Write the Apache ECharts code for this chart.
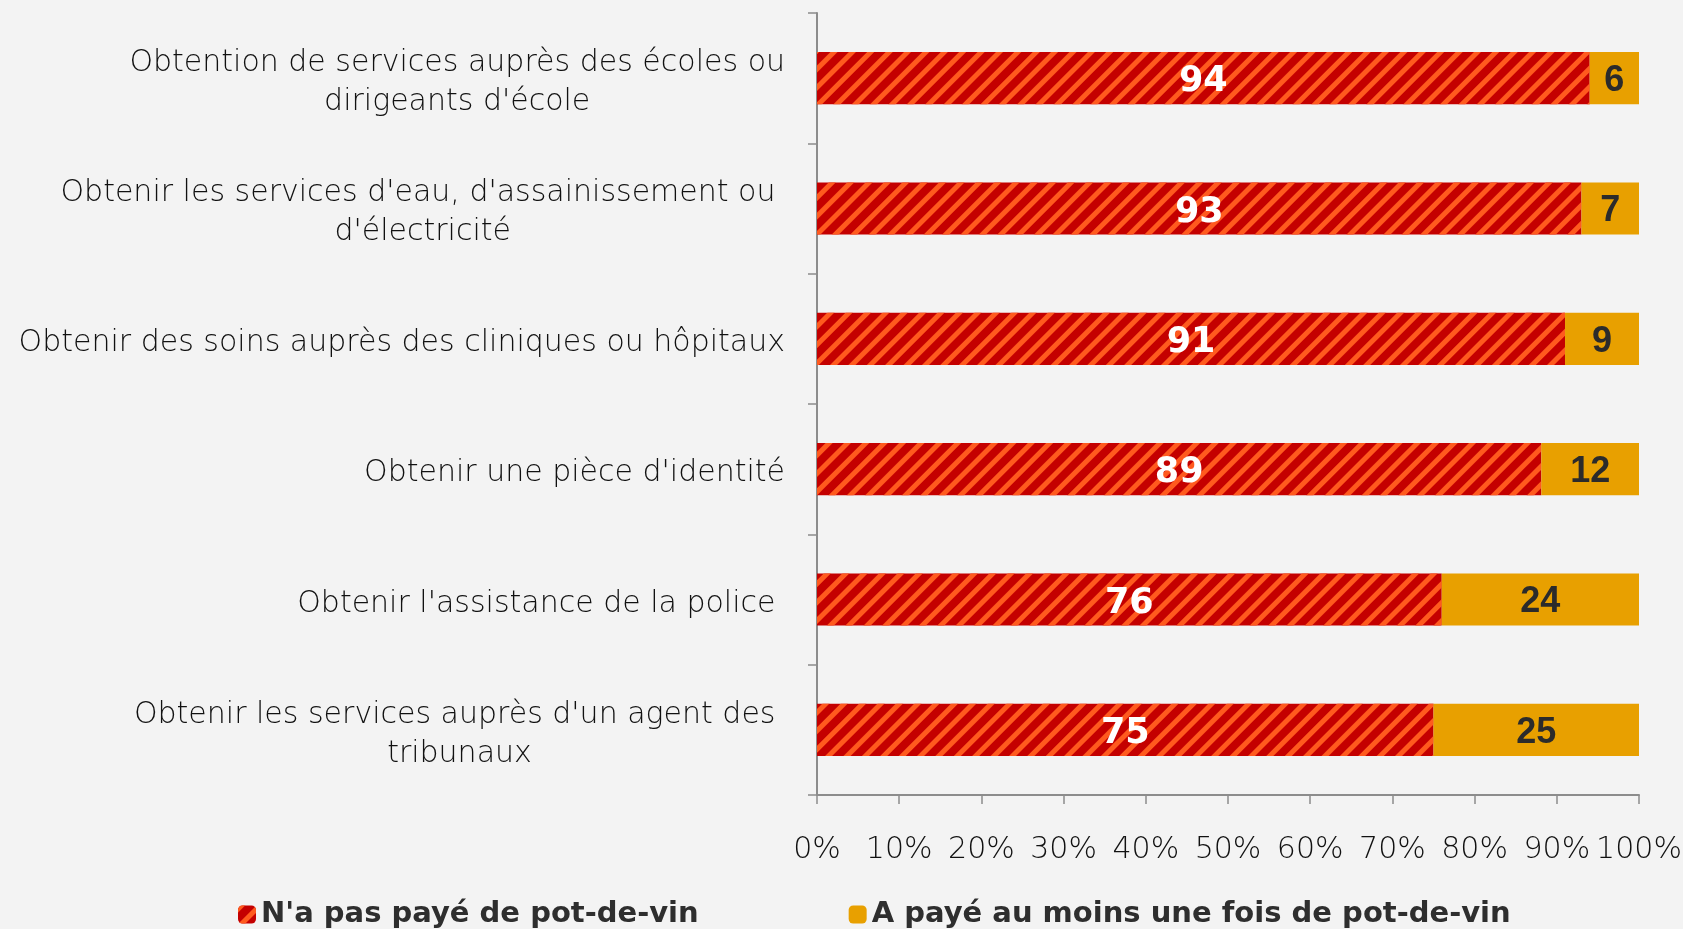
<!DOCTYPE html>
<html>
<head>
<meta charset="utf-8">
<script src="https://cdn.jsdelivr.net/npm/echarts@6/dist/echarts.min.js"></script>
<style>
  html, body { margin: 0; padding: 0; background: #f3f3f3; }
  #chart { width: 1683px; height: 929px; }
</style>
</head>
<body>
<div id="chart"></div>
<script>
// catégories (de haut en bas)
const categories = [
  "Obtention de services auprès des écoles ou\ndirigeants d'école",
  "Obtenir les services d'eau, d'assainissement ou \nd'électricité",
  "Obtenir des soins auprès des cliniques ou hôpitaux",
  "Obtenir une pièce d'identité",
  "Obtenir l'assistance de la police ",
  "Obtenir les services auprès d'un agent des \ntribunaux"
];
const seriesNames = ["N'a pas payé de pot-de-vin", "A payé au moins une fois de pot-de-vin"];
const notPaid = [94, 93, 91, 89, 76, 75];
const paid = [6, 7, 9, 12, 24, 25];
const tickLabels = ['0%', '10%', '20%', '30%', '40%', '50%', '60%', '70%', '80%', '90%', '100%'];

// barres empilées à 100 %
const toShare = (v, i) => v / (notPaid[i] + paid[i]) * 100;

const chart = echarts.init(document.getElementById('chart'));

const labelFont = "'DejaVu Sans', sans-serif";

chart.setOption({
  backgroundColor: '#f3f3f3',
  animation: false,
  grid: { left: 817, right: 44, top: 13, bottom: 134, containLabel: false, outerBoundsMode: 'none' },
  legend: {
    left: 233,
    top: 895,
    itemWidth: 18,
    itemHeight: 18,
    itemGap: 150,
    textStyle: { fontFamily: labelFont, fontWeight: 'bold', fontSize: 29, color: '#2e2e2e' },
    data: seriesNames
  },
  xAxis: {
    type: 'value',
    min: 0,
    max: 100,
    interval: 10,
    splitLine: { show: false },
    axisLine: { show: true, lineStyle: { color: '#8c8c8c', width: 2 } },
    axisTick: { show: true, length: 9, lineStyle: { color: '#8c8c8c', width: 1.5 } },
    axisLabel: {
      margin: 40,
      fontFamily: labelFont,
      fontWeight: 200,
      fontSize: 30,
      color: '#111',
      formatter: v => tickLabels[Math.round(v / 10)]
    }
  },
  yAxis: {
    type: 'category',
    inverse: true,
    data: categories,
    axisLine: { show: true, lineStyle: { color: '#8c8c8c', width: 2 } },
    axisTick: { show: true, length: 9, lineStyle: { color: '#8c8c8c', width: 1.5 } },
    axisLabel: {
      margin: 32,
      align: 'right',
      lineHeight: 39,
      padding: [9, 0, 0, 0],
      formatter: v => v.split('\n').map(s => '{a|' + s + '}').join('\n'),
      rich: {
        a: {
          fontFamily: labelFont,
          fontWeight: 200,
          fontSize: 30,
          color: '#111',
          lineHeight: 39,
          align: 'center'
        }
      }
    }
  },
  series: [
    {
      name: seriesNames[0],
      type: 'bar',
      stack: 'total',
      barCategoryGap: '60%',
      data: notPaid.map(toShare),
      itemStyle: {
        color: '#c40000',
        decal: {
          symbol: 'rect',
          symbolSize: 1,
          color: '#ff5a1e',
          dashArrayX: [1, 0],
          dashArrayY: [5, 8],
          rotation: -Math.PI / 4
        }
      },
      label: {
        show: true,
        position: 'inside',
        offset: [0, 4],
        formatter: p => notPaid[p.dataIndex],
        color: '#fff',
        fontFamily: labelFont,
        fontWeight: 'bold',
        fontSize: 35
      }
    },
    {
      name: seriesNames[1],
      type: 'bar',
      stack: 'total',
      data: paid.map(toShare),
      itemStyle: { color: '#e8a000' },
      label: {
        show: true,
        position: 'inside',
        offset: [0, 3],
        formatter: p => paid[p.dataIndex],
        color: '#2b2b2b',
        fontFamily: "'Liberation Sans', Arial, sans-serif",
        fontWeight: 'bold',
        fontSize: 36
      }
    }
  ]
});

window.addEventListener('resize', () => chart.resize());
</script>
</body>
</html>
